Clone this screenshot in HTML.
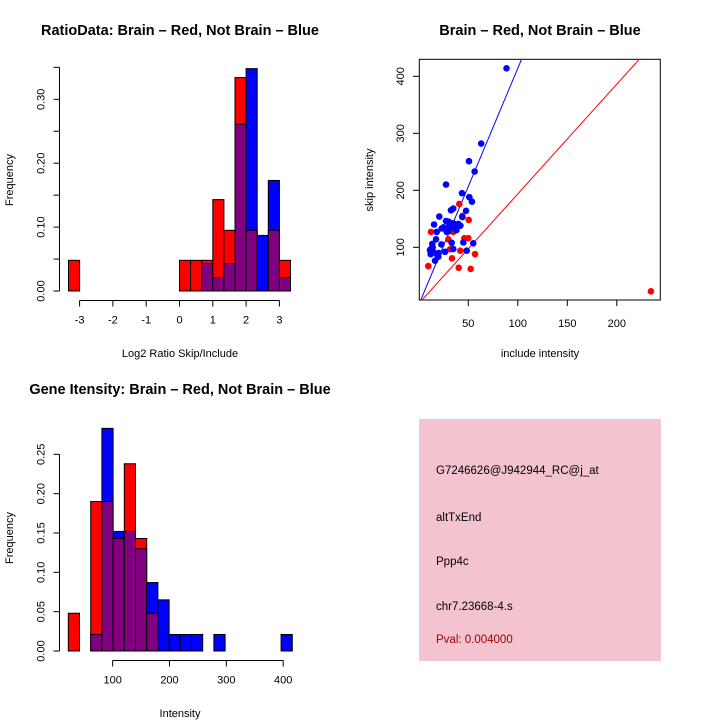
<!DOCTYPE html>
<html><head><meta charset="utf-8"><style>
html,body{margin:0;padding:0;background:#fff;}
svg{display:block;font-family:"Liberation Sans",sans-serif;}
.t{font-weight:bold;font-size:14.5px;}
.l{font-size:11px;}
</style></head><body>
<svg id="s" width="720" height="720">
<rect width="720" height="720" fill="#fff"/>
<text class="t" x="180" y="35" text-anchor="middle">RatioData: Brain – Red, Not Brain – Blue</text>
<text class="t" x="540" y="35" text-anchor="middle">Brain – Red, Not Brain – Blue</text>
<text class="t" x="180" y="394" text-anchor="middle">Gene Itensity: Brain – Red, Not Brain – Blue</text>
<text class="l" x="180" y="357" text-anchor="middle">Log2 Ratio Skip/Include</text>
<text class="l" x="0" y="0" transform="translate(13,180) rotate(-90)" text-anchor="middle">Frequency</text>
<text class="l" x="540" y="357" text-anchor="middle">include intensity</text>
<text class="l" x="0" y="0" transform="translate(373,180) rotate(-90)" text-anchor="middle">skip intensity</text>
<text class="l" x="180" y="717" text-anchor="middle">Intensity</text>
<text class="l" x="0" y="0" transform="translate(13,538) rotate(-90)" text-anchor="middle">Frequency</text>
<rect x="419" y="419" width="242" height="242" fill="#f3c3cf"/>
<g font-size="11.5">
<text x="436" y="474">G7246626@J942944_RC@j_at</text>
<text x="436" y="521">altTxEnd</text>
<text x="436" y="565">Ppp4c</text>
<text x="436" y="610">chr7.23668-4.s</text>
<text x="436" y="643" fill="#a00000">Pval: 0.004000</text>
</g>
</svg>
<script>
// ratio histogram data
const ratioBinStart = -10/3, ratioBinWidth = 1/3;
const ratioRed  = [0.048,0,0,0,0,0,0,0,0,0, 0.048,0.048,0.048,0.143,0.095,0.334,0.095,0,0.095,0.048];
const ratioBlue = [0,0,0,0,0,0,0,0,0,0, 0,0,0.043,0.021,0.043,0.261,0.348,0.087,0.173,0.021];
const ratioXTicks = [-3,-2,-1,0,1,2,3];
const ratioYTicks = [0,0.05,0.1,0.15,0.2,0.25,0.3,0.35];
const ratioYLabels = ["0.00","","0.10","","0.20","","0.30",""];
// intensity histogram data
const intBinStart = 22, intBinWidth = 19.7;
const intRed  = [0.048,0,0.19,0.19,0.143,0.238,0.143,0.048,0,0,0,0,0,0,0,0,0,0,0,0];
const intBlue = [0,0,0.021,0.283,0.152,0.152,0.130,0.087,0.065,0.021,0.021,0.021,0,0.021,0,0,0,0,0,0.021];
const intXTicks = [100,200,300,400];
const intYTicks = [0,0.05,0.1,0.15,0.2,0.25];
const intYLabels = ["0.00","0.05","0.10","0.15","0.20","0.25"];
// scatter data
const blueX = [88.6,63,50.7,56.4,27.5,43.6,51,53.7,47.7,34.8,32.5,20.7,44,15.4,27.5,30.2,34.8,39.9,31.5,36.6,28.2,23.1,18.1,31,38,17.4,13.6,22.8,33.2,45,55,11.3,14.6,19.7,16.4,26.5,34.8,48.4,12,18.1,25,36,14,20,30,42];
const blueY = [414,282,251,233,210,195,188,180,164,168,165,154,153,140,146,145,142,141,136,133,127,133,127,138,130,114,106,105,108,108.5,107,95,92,83.5,76.5,92,97,94,88,88,135,140,100,90,128,138];
const redX = [40.9,44,50.4,12.3,34.8,29.8,50,31.5,41.9,56.8,33.5,9.6,40.3,52.4,12,31.5,46,234.5,38];
const redY = [176,155,148,127,127,114,116,96.5,94,88,80.7,67,64,62,97,130,116,22.8,136];
const scXTicks = [50,100,150,200];
const scYTicks = [100,200,300,400];
const blueLine = [4.15,-0.8]; // slope, intercept
const redLine = [1.925,1.3];

const svg = document.getElementById('s');
const NS = 'http://www.w3.org/2000/svg';
function mk(tag, attrs){const e=document.createElementNS(NS,tag);for(const k in attrs)e.setAttribute(k,attrs[k]);svg.appendChild(e);return e;}

function hist(binStart,binW,red,blue,ax,prefix){
  red.forEach((r,i)=>{
    const b=blue[i]; const x0=ax.x(binStart+i*binW), x1=ax.x(binStart+(i+1)*binW);
    const hi=Math.max(r,b), lo=Math.min(r,b);
    if(hi>0){
      const e=mk('rect',{x:x0,y:ax.y(hi),width:x1-x0,height:ax.y(0)-ax.y(hi),fill:r>=b?'#ff0000':'#0000ff',stroke:'#000','stroke-width':1});
      
      
    }
    if(lo>0){
      const e=mk('rect',{x:x0,y:ax.y(lo),width:x1-x0,height:ax.y(0)-ax.y(lo),fill:'#800080',stroke:'#000','stroke-width':1});
      
      
    }
  });
}
function yaxis(ticks,labels,ax,xPos,prefix){
  const l=mk('line',{x1:xPos,x2:xPos,y1:ax.y(ticks[0]),y2:ax.y(ticks[ticks.length-1]),stroke:'#000'});
  
  
  ticks.forEach((t,i)=>{
    mk('line',{x1:xPos-6,x2:xPos,y1:ax.y(t),y2:ax.y(t),stroke:'#000'});
    if(labels[i]){const tx=mk('text',{x:0,y:0,transform:`translate(${xPos-15},${ax.y(t)}) rotate(-90)`,'text-anchor':'middle','font-size':11});tx.textContent=labels[i];
      
      }
  });
}
function xaxis(ticks,ax,yPos,prefix){
  const l=mk('line',{x1:ax.x(ticks[0]),x2:ax.x(ticks[ticks.length-1]),y1:yPos,y2:yPos,stroke:'#000'});
  
  
  ticks.forEach(t=>{
    mk('line',{x1:ax.x(t),x2:ax.x(t),y1:yPos,y2:yPos+6,stroke:'#000'});
    const tx=mk('text',{x:ax.x(t),y:yPos+23,'text-anchor':'middle','font-size':11});tx.textContent=String(t);
    
    
  });
}
const axR={x:v=>179.5+v*33.3, y:v=>291-v*639};
hist(ratioBinStart,ratioBinWidth,ratioRed,ratioBlue,axR,'ratio');
yaxis(ratioYTicks,ratioYLabels,axR,59.5,'ratio');
xaxis(ratioXTicks,axR,300.5,'ratio');
const axI={x:v=>68.3+(v-22)*0.5685, y:v=>651-v*786.7};
hist(intBinStart,intBinWidth,intRed,intBlue,axI,'intensity');
yaxis(intYTicks,intYLabels,axI,59.5,'intensity');
xaxis(intXTicks,axI,660.5,'intensity');
const axS={x:v=>418.8+v*0.99, y:v=>304.3-v*0.57};
const box=mk('rect',{x:419.3,y:59.3,width:241,height:240.7,fill:'none',stroke:'#000'});


const cp=mk('clipPath',{id:'cp'});
const cr=document.createElementNS(NS,'rect');cr.setAttribute('x',419.3);cr.setAttribute('y',59.3);cr.setAttribute('width',241);cr.setAttribute('height',240.7);cp.appendChild(cr);
function fitLine(p,color,name){
  const x0=0,x1=240;
  const e=mk('line',{x1:axS.x(x0),y1:axS.y(p[0]*x0+p[1]),x2:axS.x(x1),y2:axS.y(p[0]*x1+p[1]),stroke:color,'stroke-width':1,'clip-path':'url(#cp)'});
  
  
}
fitLine(blueLine,'#0000ff','blue-fit-line');
fitLine(redLine,'#ff0000','red-fit-line');
redX.forEach((x,i)=>{const c=mk('circle',{cx:axS.x(x),cy:axS.y(redY[i]),r:3.3,fill:'#ff0000'});
  
  });
blueX.forEach((x,i)=>{const c=mk('circle',{cx:axS.x(x),cy:axS.y(blueY[i]),r:3.3,fill:'#0000ff'});
  
  });
scYTicks.forEach(t=>{
  mk('line',{x1:413,x2:419.3,y1:axS.y(t),y2:axS.y(t),stroke:'#000'});
  const tx=mk('text',{x:0,y:0,transform:`translate(404,${axS.y(t)}) rotate(-90)`,'text-anchor':'middle','font-size':11});tx.textContent=String(t);
  
  
});
scXTicks.forEach(t=>{
  mk('line',{x1:axS.x(t),x2:axS.x(t),y1:300,y2:306,stroke:'#000'});
  const tx=mk('text',{x:axS.x(t),y:327,'text-anchor':'middle','font-size':11});tx.textContent=String(t);
  
  
});
</script>
</body></html>
